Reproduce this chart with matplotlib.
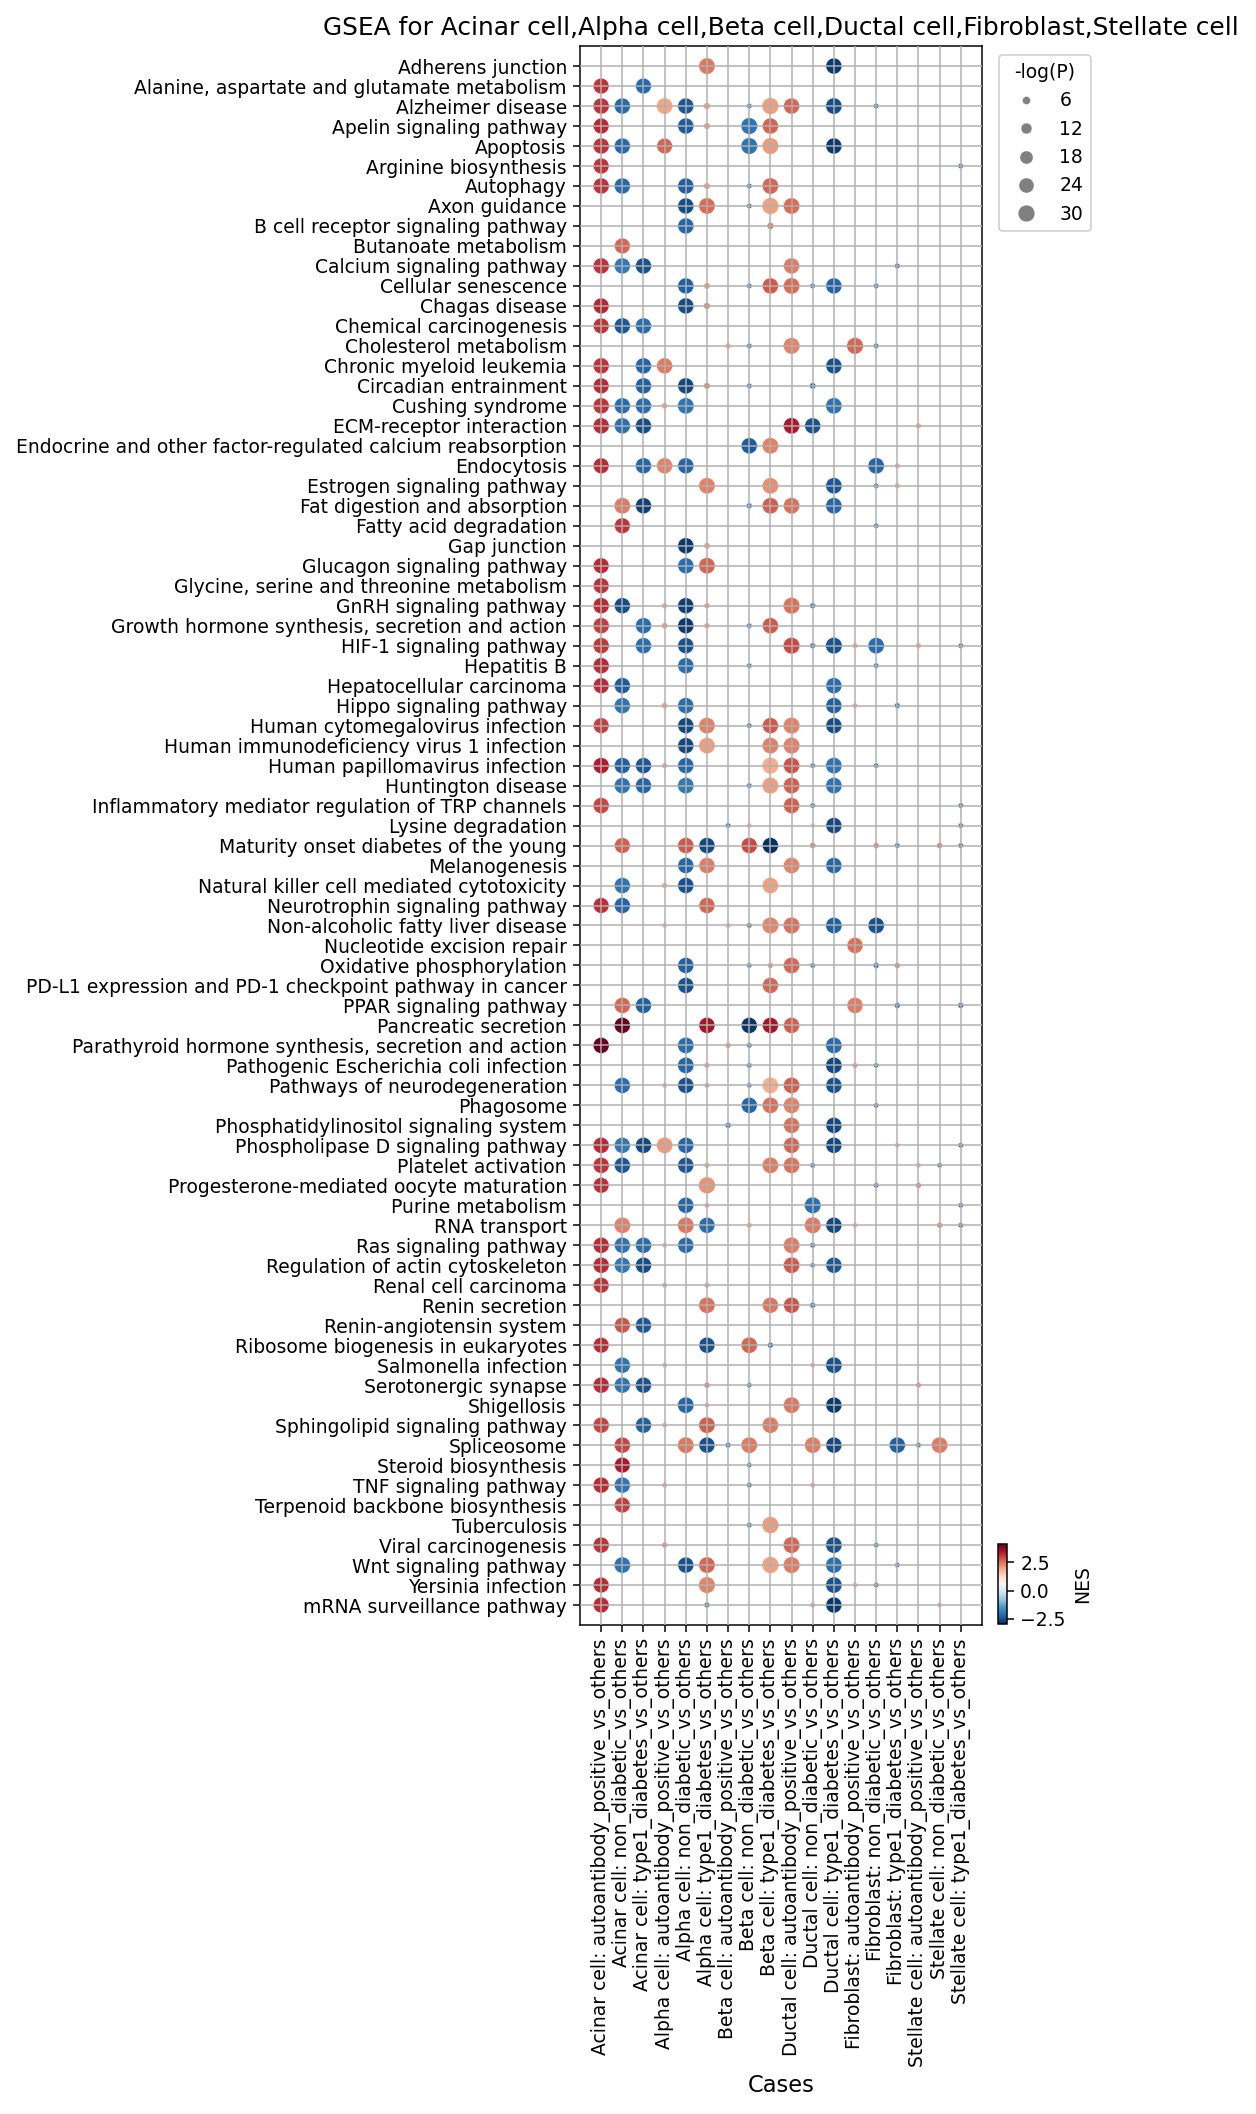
import numpy as np
import pandas as pd
import matplotlib
matplotlib.use("Agg")
import matplotlib.pyplot as plt
from matplotlib.lines import Line2D
from matplotlib.colors import Normalize
from matplotlib.cm import ScalarMappable

pathways = [
    "Adherens junction", "Alanine, aspartate and glutamate metabolism", "Alzheimer disease",
    "Apelin signaling pathway", "Apoptosis", "Arginine biosynthesis", "Autophagy", "Axon guidance",
    "B cell receptor signaling pathway", "Butanoate metabolism", "Calcium signaling pathway",
    "Cellular senescence", "Chagas disease", "Chemical carcinogenesis", "Cholesterol metabolism",
    "Chronic myeloid leukemia", "Circadian entrainment", "Cushing syndrome", "ECM-receptor interaction",
    "Endocrine and other factor-regulated calcium reabsorption", "Endocytosis",
    "Estrogen signaling pathway", "Fat digestion and absorption", "Fatty acid degradation",
    "Gap junction", "Glucagon signaling pathway", "Glycine, serine and threonine metabolism",
    "GnRH signaling pathway", "Growth hormone synthesis, secretion and action",
    "HIF-1 signaling pathway", "Hepatitis B", "Hepatocellular carcinoma", "Hippo signaling pathway",
    "Human cytomegalovirus infection", "Human immunodeficiency virus 1 infection",
    "Human papillomavirus infection", "Huntington disease",
    "Inflammatory mediator regulation of TRP channels", "Lysine degradation",
    "Maturity onset diabetes of the young", "Melanogenesis",
    "Natural killer cell mediated cytotoxicity", "Neurotrophin signaling pathway",
    "Non-alcoholic fatty liver disease", "Nucleotide excision repair", "Oxidative phosphorylation",
    "PD-L1 expression and PD-1 checkpoint pathway in cancer", "PPAR signaling pathway",
    "Pancreatic secretion", "Parathyroid hormone synthesis, secretion and action",
    "Pathogenic Escherichia coli infection", "Pathways of neurodegeneration", "Phagosome",
    "Phosphatidylinositol signaling system", "Phospholipase D signaling pathway",
    "Platelet activation", "Progesterone-mediated oocyte maturation", "Purine metabolism",
    "RNA transport", "Ras signaling pathway", "Regulation of actin cytoskeleton",
    "Renal cell carcinoma", "Renin secretion", "Renin-angiotensin system",
    "Ribosome biogenesis in eukaryotes", "Salmonella infection", "Serotonergic synapse",
    "Shigellosis", "Sphingolipid signaling pathway", "Spliceosome", "Steroid biosynthesis",
    "TNF signaling pathway", "Terpenoid backbone biosynthesis", "Tuberculosis",
    "Viral carcinogenesis", "Wnt signaling pathway", "Yersinia infection",
    "mRNA surveillance pathway",
]

cases = [
    "Acinar cell: autoantibody_positive_vs_others", "Acinar cell: non_diabetic_vs_others",
    "Acinar cell: type1_diabetes_vs_others", "Alpha cell: autoantibody_positive_vs_others",
    "Alpha cell: non_diabetic_vs_others", "Alpha cell: type1_diabetes_vs_others",
    "Beta cell: autoantibody_positive_vs_others", "Beta cell: non_diabetic_vs_others",
    "Beta cell: type1_diabetes_vs_others", "Ductal cell: autoantibody_positive_vs_others",
    "Ductal cell: non_diabetic_vs_others", "Ductal cell: type1_diabetes_vs_others",
    "Fibroblast: autoantibody_positive_vs_others", "Fibroblast: non_diabetic_vs_others",
    "Fibroblast: type1_diabetes_vs_others", "Stellate cell: autoantibody_positive_vs_others",
    "Stellate cell: non_diabetic_vs_others", "Stellate cell: type1_diabetes_vs_others",
]

# NES per pathway, keyed by case index
nes = [
    {5: 2.45, 11: -2.8},
    {0: 3.1, 2: -2.15},
    {0: 3.1, 1: -2.15, 3: 1.95, 4: -2.4, 5: 2.0, 7: -1.9, 8: 2.05, 9: 2.6, 11: -2.55, 13: -1.9},
    {0: 3.2, 4: -2.35, 5: 2.1, 7: -2.0, 8: 2.65},
    {0: 3.1, 1: -2.15, 3: 2.6, 7: -2.0, 8: 2.1, 11: -2.8},
    {0: 3.1, 17: -1.9},
    {0: 3.1, 1: -2.15, 4: -2.3, 5: 2.1, 7: -1.9, 8: 2.6},
    {4: -2.55, 5: 2.55, 7: -1.9, 8: 2.0, 9: 2.55},
    {4: -2.2, 8: 2.4},
    {1: 2.6},
    {0: 3.1, 1: -1.9, 2: -2.5, 9: 2.4, 14: -1.9},
    {4: -2.3, 5: 2.1, 7: -1.9, 8: 2.75, 9: 2.55, 10: -1.9, 11: -2.25, 13: -1.9},
    {0: 3.25, 4: -2.55, 5: 2.4},
    {0: 3.1, 1: -2.4, 2: -2.1},
    {6: 1.9, 7: -1.9, 9: 2.3, 12: 2.6, 13: -1.9},
    {0: 3.1, 2: -2.25, 3: 2.4, 11: -2.5},
    {0: 3.2, 2: -2.3, 4: -2.6, 5: 2.5, 7: -1.9, 10: -2.1},
    {0: 3.1, 1: -2.1, 2: -2.1, 3: 1.9, 4: -2.0, 11: -2.0},
    {0: 3.2, 1: -2.05, 2: -2.55, 9: 3.4, 10: -2.5, 15: 1.9},
    {7: -2.35, 8: 2.35},
    {0: 3.2, 2: -2.2, 3: 2.3, 4: -2.2, 13: -2.2, 14: 1.9},
    {5: 2.35, 8: 2.2, 11: -2.4, 13: -1.9, 14: 1.9},
    {1: 2.4, 2: -2.7, 7: -1.9, 8: 2.7, 9: 2.5, 11: -2.2},
    {1: 3.1, 13: -1.9},
    {4: -2.8, 5: 2.1},
    {0: 3.2, 4: -2.1, 5: 2.6},
    {0: 3.1},
    {0: 3.2, 1: -2.55, 3: 1.9, 4: -2.7, 5: 2.1, 9: 2.5, 10: -2.0},
    {0: 3.0, 2: -2.1, 3: 2.1, 4: -2.8, 5: 2.1, 7: -1.9, 8: 2.75},
    {0: 3.05, 2: -2.1, 4: -2.5, 9: 2.9, 10: -2.0, 11: -2.45, 12: 1.9, 13: -2.1, 15: 1.9, 17: -1.9},
    {0: 3.2, 4: -2.1, 7: -1.9, 13: -1.9},
    {0: 3.2, 1: -2.35, 11: -2.1},
    {1: -2.0, 3: 2.0, 4: -2.1, 11: -2.3, 12: 1.9, 14: -1.9},
    {0: 3.0, 4: -2.6, 5: 2.35, 7: -1.9, 8: 2.75, 9: 2.35, 11: -2.55},
    {4: -2.6, 5: 2.05, 8: 2.35, 9: 2.35},
    {0: 3.35, 1: -2.3, 2: -2.4, 3: 1.9, 4: -2.2, 8: 1.85, 9: 2.8, 10: -1.9, 11: -2.0, 13: -1.9},
    {1: -2.0, 2: -2.2, 4: -1.95, 7: -1.9, 8: 2.05, 9: 2.7, 11: -2.0},
    {0: 2.95, 9: 2.7, 10: -1.9, 17: -1.9},
    {6: -1.9, 7: 1.9, 10: 1.7, 11: -2.6, 17: -1.9},
    {1: 2.7, 4: 2.75, 5: -2.6, 7: 2.9, 8: -2.94, 10: 2.5, 13: 2.5, 14: -2.0, 16: 2.5, 17: -2.0},
    {4: -2.2, 5: 2.4, 9: 2.3, 11: -2.2},
    {1: -2.0, 3: 1.9, 4: -2.5, 8: 2.0},
    {0: 3.15, 1: -2.2, 5: 2.6},
    {3: 1.9, 6: 1.9, 7: -1.9, 8: 2.3, 9: 2.5, 11: -2.3, 13: -2.5},
    {12: 2.5},
    {4: -2.3, 7: -1.9, 8: 2.3, 9: 2.6, 10: -1.9, 13: -2.2, 14: 2.4},
    {4: -2.5, 8: 2.6},
    {1: 2.6, 2: -2.3, 12: 2.4, 14: -2.1, 17: -2.1},
    {1: 4.08, 5: 3.45, 7: -2.85, 8: 3.45, 9: 2.7},
    {0: 4.08, 4: -2.1, 6: 2.1, 7: -1.9, 11: -2.1},
    {4: -2.2, 5: 2.1, 7: -1.9, 11: -2.6, 12: 2.1, 13: -1.9},
    {1: -2.1, 3: 1.9, 4: -2.5, 5: 2.1, 7: -1.9, 8: 1.85, 9: 2.7, 11: -2.5},
    {7: -2.2, 8: 2.5, 9: 2.35, 13: -1.9},
    {6: -2.1, 9: 2.5, 11: -2.6},
    {0: 3.2, 1: -1.95, 2: -2.6, 3: 2.1, 4: -2.2, 9: 2.6, 11: -2.6, 14: 1.9, 17: -2.0},
    {0: 3.1, 1: -2.4, 4: -2.4, 5: 2.1, 8: 2.4, 9: 2.5, 10: -1.9, 15: 1.9, 16: -1.9},
    {0: 3.15, 5: 2.15, 13: -2.0, 15: 2.3},
    {4: -2.2, 5: 2.0, 10: -2.05, 17: -1.9},
    {1: 2.35, 4: 2.45, 5: -2.1, 7: 2.0, 10: 2.4, 11: -2.6, 12: 1.9, 16: 2.3, 17: -1.9},
    {0: 3.2, 1: -2.0, 2: -2.1, 3: 1.9, 4: -2.1, 9: 2.4, 10: -2.0},
    {0: 3.2, 1: -1.95, 2: -2.55, 9: 2.75, 10: -1.9, 11: -2.4},
    {0: 3.1, 3: 2.0, 5: 2.1},
    {5: 2.5, 8: 2.45, 9: 2.8, 10: -2.1},
    {1: 2.8, 2: -2.4},
    {0: 3.2, 5: -2.5, 7: 2.6, 8: -2.2},
    {1: -2.0, 3: 1.9, 10: 1.9, 11: -2.5},
    {0: 3.2, 1: -2.0, 2: -2.5, 5: 2.6, 7: -1.9, 15: 2.2},
    {4: -2.2, 5: 1.9, 9: 2.45, 11: -2.8},
    {0: 2.95, 2: -2.3, 3: 1.9, 5: 2.7, 8: 2.4},
    {1: 2.95, 4: 2.45, 5: -2.5, 6: -2.0, 7: 2.4, 10: 2.4, 11: -2.6, 14: -2.3, 15: -2.0, 16: 2.4},
    {1: 3.4, 7: -1.9},
    {0: 3.2, 1: -2.0, 3: 2.0, 7: -1.9, 10: 1.9},
    {1: 3.0},
    {7: -1.9, 8: 2.1},
    {0: 3.1, 3: 2.4, 9: 2.6, 11: -2.45, 13: -1.9},
    {1: -2.0, 4: -2.5, 5: 2.6, 8: 2.0, 9: 2.4, 11: -2.05, 14: -1.9},
    {0: 3.2, 5: 2.3, 11: -2.45, 12: 1.9, 13: -1.9},
    {0: 3.2, 5: -1.9, 10: 2.0, 11: -2.8, 16: 1.9},
]

# -log(P) per pathway, keyed by case index
neglogp = [
    {5: 28, 11: 27},
    {0: 26, 2: 26},
    {0: 27, 1: 27, 3: 28, 4: 27, 5: 4.0, 7: 2.0, 8: 30, 9: 27, 11: 28, 13: 2.0},
    {0: 26, 4: 27, 5: 3.5, 7: 29, 8: 27},
    {0: 27, 1: 27, 3: 26, 7: 29, 8: 29, 11: 27},
    {0: 26, 17: 2.0},
    {0: 27, 1: 27, 4: 27, 5: 3.5, 7: 2.0, 8: 28},
    {4: 27, 5: 28, 7: 2.0, 8: 30, 9: 28},
    {4: 27, 8: 4.0},
    {1: 26},
    {0: 27, 1: 27, 2: 27, 9: 27, 14: 2.2},
    {4: 27, 5: 3.5, 7: 2.0, 8: 27, 9: 28, 10: 2.0, 11: 27, 13: 2.0},
    {0: 26, 4: 27, 5: 3.5},
    {0: 26, 1: 27, 2: 27},
    {6: 2.5, 7: 2.0, 9: 29, 12: 29, 13: 2.0},
    {0: 27, 2: 27, 3: 27, 11: 27},
    {0: 26, 2: 27, 4: 27, 5: 3.2, 7: 2.0, 10: 3.2},
    {0: 27, 1: 27, 2: 27, 3: 3.2, 4: 28, 11: 28},
    {0: 27, 1: 27, 2: 27, 9: 28, 10: 27, 15: 2.5},
    {7: 27, 8: 28},
    {0: 26, 2: 27, 3: 27, 4: 27, 13: 28, 14: 2.2},
    {5: 28, 8: 28, 11: 28, 13: 2.0, 14: 2.2},
    {1: 28, 2: 27, 7: 2.5, 8: 28, 9: 28, 11: 28},
    {1: 26, 13: 2.0},
    {4: 27, 5: 3.0},
    {0: 26, 4: 27, 5: 28},
    {0: 26},
    {0: 27, 1: 27, 3: 2.5, 4: 27, 5: 2.5, 9: 29, 10: 2.5},
    {0: 27, 2: 27, 3: 3.0, 4: 27, 5: 2.5, 7: 2.0, 8: 27},
    {0: 27, 2: 27, 4: 27, 9: 29, 10: 2.5, 11: 29, 12: 2.5, 13: 28, 15: 2.5, 17: 2.0},
    {0: 27, 4: 27, 7: 2.0, 13: 2.0},
    {0: 26, 1: 27, 11: 27},
    {1: 27, 3: 3.0, 4: 27, 11: 27, 12: 2.2, 14: 2.5},
    {0: 26, 4: 27, 5: 28, 7: 2.0, 8: 27, 9: 29, 11: 27},
    {4: 27, 5: 28, 8: 28, 9: 29},
    {0: 27, 1: 27, 2: 27, 3: 2.5, 4: 27, 8: 29, 9: 28, 10: 2.0, 11: 28, 13: 2.0},
    {1: 27, 2: 27, 4: 28, 7: 2.0, 8: 29, 9: 28, 11: 28},
    {0: 27, 9: 27, 10: 2.0, 17: 2.0},
    {6: 2.0, 7: 1.8, 10: 1.8, 11: 27, 17: 2.0},
    {1: 26, 4: 27, 5: 27, 7: 27, 8: 27, 10: 2.5, 13: 2.5, 14: 2.0, 16: 2.5, 17: 2.0},
    {4: 27, 5: 27, 9: 28, 11: 27},
    {1: 27, 3: 2.5, 4: 27, 8: 28},
    {0: 26, 1: 27, 5: 27},
    {3: 1.8, 6: 2.0, 7: 2.0, 8: 29, 9: 29, 11: 28, 13: 28},
    {12: 27},
    {4: 27, 7: 1.8, 8: 2.2, 9: 28, 10: 2.0, 13: 2.5, 14: 2.5},
    {4: 27, 8: 27},
    {1: 27, 2: 27, 12: 27, 14: 2.5, 17: 2.5},
    {1: 27, 5: 27, 7: 27, 8: 27, 9: 27},
    {0: 27, 4: 28, 6: 2.5, 7: 2.0, 11: 28},
    {4: 28, 5: 2.2, 7: 2.0, 11: 28, 12: 2.2, 13: 1.8},
    {1: 27, 3: 2.0, 4: 27, 5: 2.0, 7: 1.8, 8: 28, 9: 28, 11: 27},
    {7: 27, 8: 28, 9: 28, 13: 1.8},
    {6: 2.5, 9: 27, 11: 27},
    {0: 27, 1: 27, 2: 27, 3: 28, 4: 27, 9: 27, 11: 27, 14: 1.8, 17: 2.0},
    {0: 27, 1: 27, 4: 27, 5: 2.2, 8: 28, 9: 28, 10: 2.0, 15: 2.0, 16: 1.8},
    {0: 26, 5: 30, 13: 2.0, 15: 2.5},
    {4: 27, 5: 2.0, 10: 29, 17: 2.0},
    {1: 28, 4: 28, 5: 27, 7: 2.2, 10: 29, 11: 27, 12: 2.0, 16: 2.5, 17: 2.0},
    {0: 27, 1: 27, 2: 27, 3: 1.8, 4: 27, 9: 28, 10: 2.2},
    {0: 27, 1: 27, 2: 27, 9: 28, 10: 1.8, 11: 27},
    {0: 26, 3: 2.0, 5: 2.0},
    {5: 28, 8: 27, 9: 27, 10: 2.5},
    {1: 26, 2: 27},
    {0: 26, 5: 27, 7: 28, 8: 2.5},
    {1: 27, 3: 2.0, 10: 1.8, 11: 28},
    {0: 27, 1: 27, 2: 27, 5: 2.2, 7: 1.8, 15: 2.2},
    {4: 28, 5: 1.8, 9: 28, 11: 27},
    {0: 27, 2: 27, 3: 2.2, 5: 28, 8: 28},
    {1: 27, 4: 28, 5: 27, 6: 2.2, 7: 28, 10: 28, 11: 27, 14: 27, 15: 1.8, 16: 28},
    {1: 26, 7: 1.8},
    {0: 27, 1: 27, 3: 2.0, 7: 2.0, 10: 2.0},
    {1: 26},
    {7: 2.0, 8: 30},
    {0: 27, 3: 2.2, 9: 29, 11: 28, 13: 1.8},
    {1: 28, 4: 27, 5: 28, 8: 30, 9: 29, 11: 28, 14: 1.8},
    {0: 26, 5: 29, 11: 28, 12: 1.8, 13: 1.8},
    {0: 26, 5: 2.2, 10: 2.0, 11: 27, 16: 1.8},
]

legend_levels = [6, 12, 18, 24, 30]

DPI = 135


def dot_size(v):
    # marker area in pt^2 for a given -log(P)
    return (10 + 9 * np.asarray(v, dtype=float)) * (72 / DPI) ** 2


records = []
for i, (row_nes, row_p) in enumerate(zip(nes, neglogp)):
    for c, val in row_nes.items():
        records.append({"y": i, "x": c, "NES": val, "logP": row_p[c]})
df = pd.DataFrame(records)

norm = Normalize(vmin=df["NES"].min(), vmax=df["NES"].max())
cmap = plt.get_cmap("RdBu_r")

fig = plt.figure(figsize=(1256 / DPI, 2114 / DPI), dpi=DPI)
ax = fig.add_axes([0.4618, 0.2313, 0.3200, 0.7469])

ax.scatter(df["x"], df["y"], s=dot_size(df["logP"]), c=df["NES"], cmap=cmap, norm=norm,
           edgecolors="white", linewidths=0.2, zorder=1)

ax.set_xticks(range(len(cases)))
ax.set_xticklabels(cases, rotation=90)
ax.set_yticks(range(len(pathways)))
ax.set_yticklabels(pathways)
ax.set_xlim(-1, len(cases))
ax.set_ylim(len(pathways), -1)
ax.set_axisbelow(False)
ax.grid(True, color="#b0b0b0", linewidth=0.8)
ax.set_xlabel("Cases", fontsize=12)
ax.set_title("GSEA for Acinar cell,Alpha cell,Beta cell,Ductal cell,Fibroblast,Stellate cell", fontsize=13.3)

handles = [Line2D([], [], marker="o", ls="", color="gray", markeredgecolor="white",
                  markeredgewidth=0.2, ms=np.sqrt(dot_size(v))) for v in legend_levels]
ax.legend(handles, [str(v) for v in legend_levels], title="-log(P)", loc="upper left",
          bbox_to_anchor=(1.02, 1.0))

cax = fig.add_axes([0.7946, 0.2318, 0.0072, 0.0378])
cb = fig.colorbar(ScalarMappable(norm=norm, cmap=cmap), cax=cax)
cb.set_ticks([-2.5, 0.0, 2.5])
cb.set_label("NES")

fig.savefig("out.png", dpi=DPI)
